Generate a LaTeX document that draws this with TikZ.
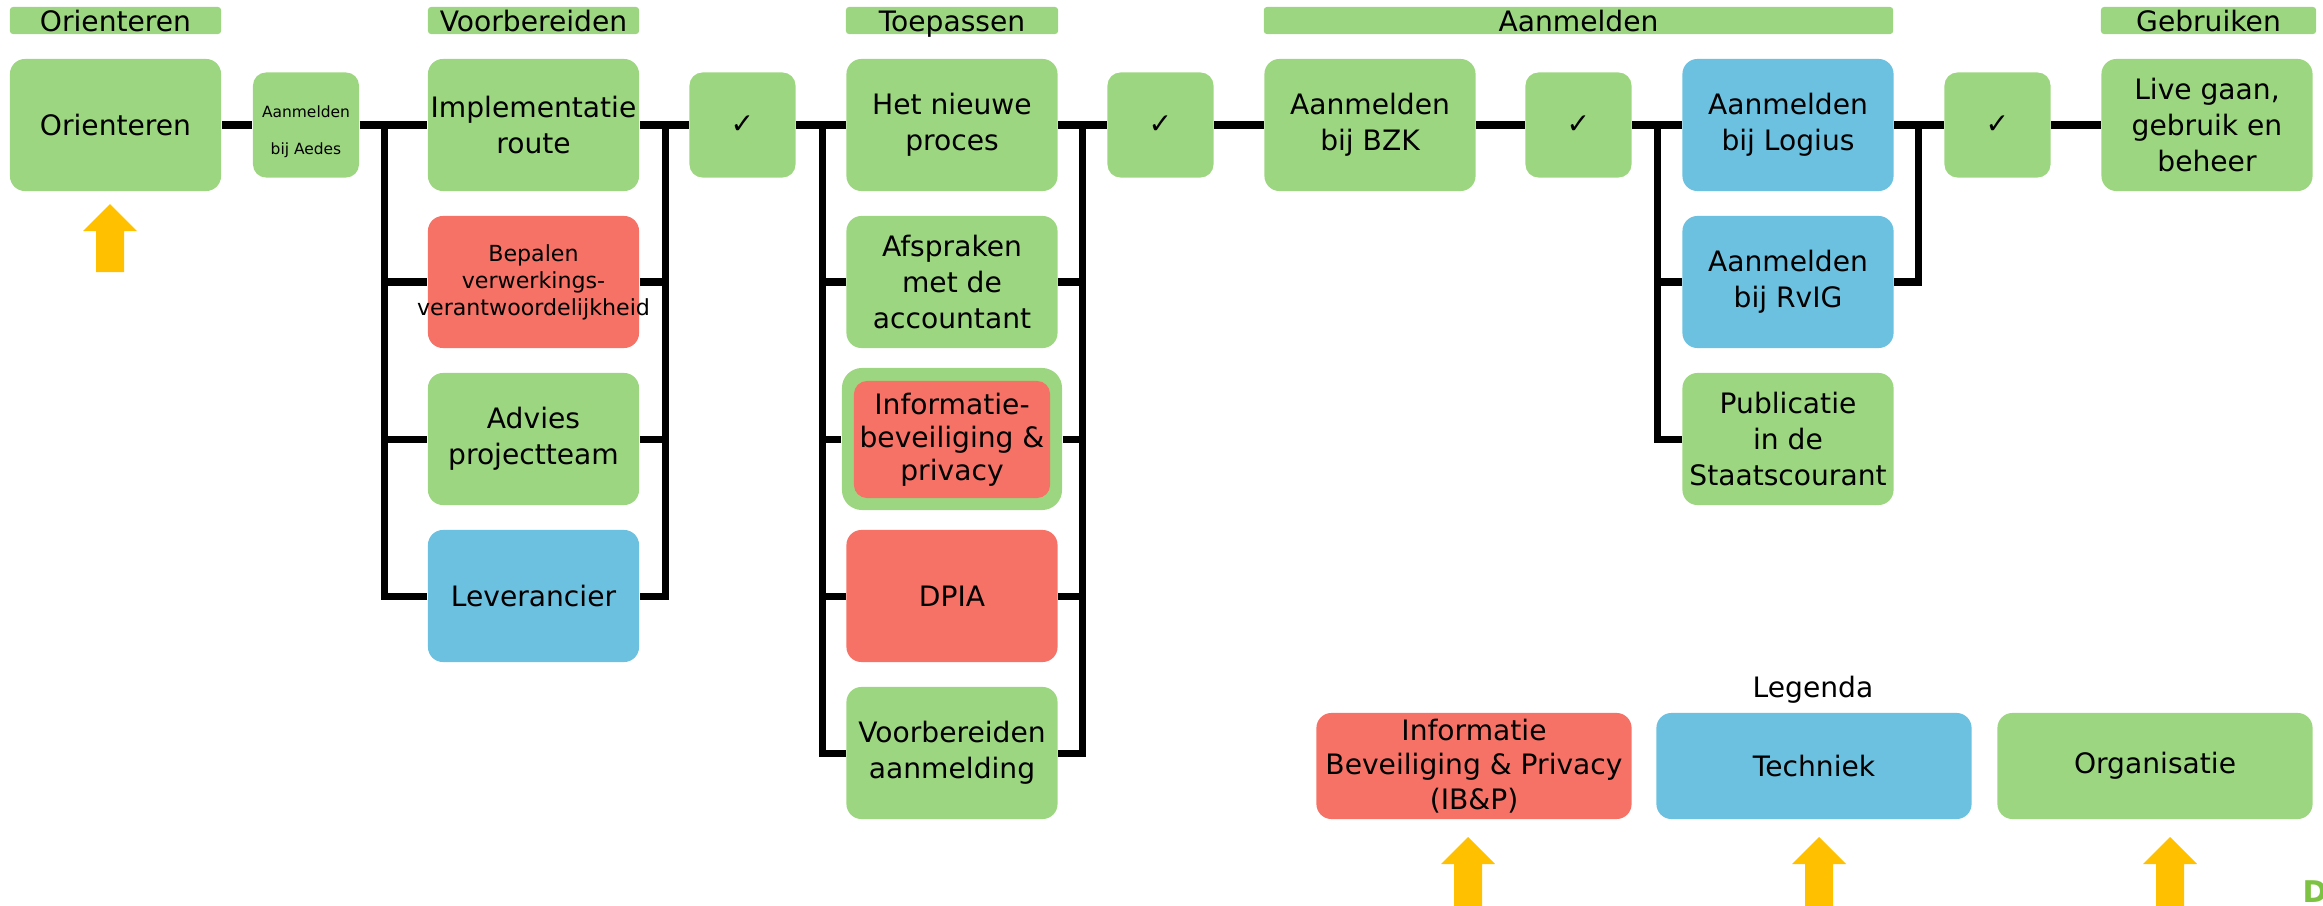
\documentclass[tikz,border=0pt]{standalone}
\usepackage{fontspec}
\setmainfont{DejaVu Sans}
\definecolor{gr}{RGB}{157,214,128}
\definecolor{rd}{RGB}{246,113,102}
\definecolor{bl}{RGB}{107,193,223}
\definecolor{yl}{RGB}{255,192,0}
\definecolor{dgr}{RGB}{125,194,66}
\newcommand\myuparrow[3]{\fill[yl] (#1,#2) -- (#1+27,#2+27) -- (#1+14,#2+27) -- (#1+14,#3) -- (#1-14,#3) -- (#1-14,#2+27) -- (#1-27,#2+27) -- cycle;}
\begin{document}
\begin{tikzpicture}[x=0.01cm,y=-0.01cm,
  box/.style={rectangle, rounded corners=0.15cm, inner sep=0pt, align=center,
    font=\fontsize{8}{10.2}\selectfont, text=black},
  big/.style={box, minimum width=2.11cm, minimum height=1.32cm},
  small/.style={box, minimum width=1.06cm, minimum height=1.05cm, rounded corners=0.13cm, fill=gr},
  hdr/.style={box, minimum height=0.27cm, rounded corners=0.03cm, fill=gr, text height=0.21cm, text depth=0pt},
  leg/.style={box, minimum width=3.15cm, minimum height=1.06cm},
  conn/.style={line width=0.07cm, line join=miter, draw=black},
]
\useasboundingbox (0,0) rectangle (2323,906);

% headers
\node[hdr, minimum width=2.11cm] (h1) at (115.5,20.5) {Orienteren};
\node[hdr, minimum width=2.11cm] (h2) at (533.5,20.5) {Voorbereiden};
\node[hdr, minimum width=2.12cm] (h3) at (952,20.5) {Toepassen};
\node[hdr, minimum width=6.29cm] (h4) at (1578.5,20.5) {Aanmelden};
\node[hdr, minimum width=2.15cm] (h5) at (2208.5,20.5) {Gebruiken};

% row 1
\node[big, fill=gr] (ori) at (115.5,125) {Orienteren};
\node[small, label={[shift={(0,-0.07cm)}, align=center, inner sep=0pt,
  font=\fontsize{4.4}{10.5}\selectfont]center:Aanmelden\\bij Aedes}] (aed) at (306,125) {};
\node[big, fill=gr] (impl) at (533.5,125) {Implementatie\\route};
\node[small] (ck1) at (742.5,125) {✓};
\node[big, fill=gr] (nieuw) at (952,125) {Het nieuwe\\proces};
\node[small] (ck2) at (1160.5,125) {✓};
\node[big, fill=gr] (bzk) at (1370,125) {Aanmelden\\bij BZK};
\node[small] (ck3) at (1578.5,125) {✓};
\node[big, fill=bl] (log) at (1788,125) {Aanmelden\\bij Logius};
\node[small] (ck4) at (1997.5,125) {✓};
\node[big, fill=gr] (live) at (2207,125) {Live gaan,\\gebruik en\\beheer};

% Voorbereiden column
\node[big, fill=rd, font=\fontsize{6.3}{7.7}\selectfont] (bep) at (533.5,282) {Bepalen\\verwerkings-\\\makebox[1.9cm]{verantwoordelijkheid}};
\node[big, fill=gr] (adv) at (533.5,439) {Advies\\projectteam};
\node[big, fill=bl] (lev) at (533.5,596) {Leverancier};

% Toepassen column
\node[big, fill=gr] (afs) at (952,282) {Afspraken\\met de\\accountant};
\node[box, fill=gr, minimum width=2.2cm, minimum height=1.42cm, rounded corners=0.2cm] (info) at (952,439) {};
\node[box, fill=rd, minimum width=1.96cm, minimum height=1.17cm, rounded corners=0.13cm,
  font=\fontsize{8}{9.4}\selectfont] (infoin) at (952,439.5) {Informatie-\\beveiliging \&\\privacy};
\node[big, fill=rd] (dpia) at (952,596) {DPIA};
\node[big, fill=gr] (vba) at (952,753) {Voorbereiden\\aanmelding};

% Aanmelden column
\node[big, fill=bl] (rvig) at (1788,282) {Aanmelden\\bij RvIG};
\node[big, fill=gr] (pub) at (1788,439) {Publicatie\\in de\\Staatscourant};

% bus coordinates
\coordinate (lb1) at (384,125);
\coordinate (rb1) at (665,125);
\coordinate (lb2) at (822,125);
\coordinate (rb2) at (1082,125);
\coordinate (lb3) at (1657,125);
\coordinate (rb3) at (1918,125);

% connectors
\draw[conn] (ori.east) -- (aed.west);
\draw[conn] (aed.east) -- (impl.west);
\draw[conn] (lb1) |- (bep.west);
\draw[conn] (lb1) |- (adv.west);
\draw[conn] (lb1) |- (lev.west);
\draw[conn] (impl.east) -- (ck1.west);
\draw[conn] (bep.east) -| (rb1);
\draw[conn] (adv.east) -| (rb1);
\draw[conn] (lev.east) -| (rb1);

\draw[conn] (ck1.east) -- (nieuw.west);
\draw[conn] (lb2) |- (afs.west);
\draw[conn] (lb2) |- (info.west);
\draw[conn] (lb2) |- (dpia.west);
\draw[conn] (lb2) |- (vba.west);
\draw[conn] (nieuw.east) -- (ck2.west);
\draw[conn] (afs.east) -| (rb2);
\draw[conn] (info.east) -| (rb2);
\draw[conn] (dpia.east) -| (rb2);
\draw[conn] (vba.east) -| (rb2);

\draw[conn] (ck2.east) -- (bzk.west);
\draw[conn] (bzk.east) -- (ck3.west);
\draw[conn] (ck3.east) -- (log.west);
\draw[conn] (lb3) |- (rvig.west);
\draw[conn] (lb3) |- (pub.west);
\draw[conn] (log.east) -- (ck4.west);
\draw[conn] (rvig.east) -| (rb3);
\draw[conn] (ck4.east) -- (live.west);

% legend
\node[box] (legtitle) at (1813,690) {Legenda};
\node[leg, fill=rd, font=\fontsize{8}{9.9}\selectfont] (lib) at (1474,766) {Informatie\\Beveiliging \& Privacy\\(IB\&P)};
\node[leg, fill=bl] (ltech) at (1814,766) {Techniek};
\node[leg, fill=gr] (lorg) at (2155,766) {Organisatie};

% yellow arrows
\myuparrow{110}{204}{272}
\myuparrow{1468}{837}{912}
\myuparrow{1819}{837}{912}
\myuparrow{2170}{837}{912}

% cut-off mark
\node[anchor=base west, inner sep=0pt, font=\fontsize{8.5}{10}\selectfont\bfseries, text=dgr] (dd) at (2302,902) {D};
\end{tikzpicture}
\end{document}
